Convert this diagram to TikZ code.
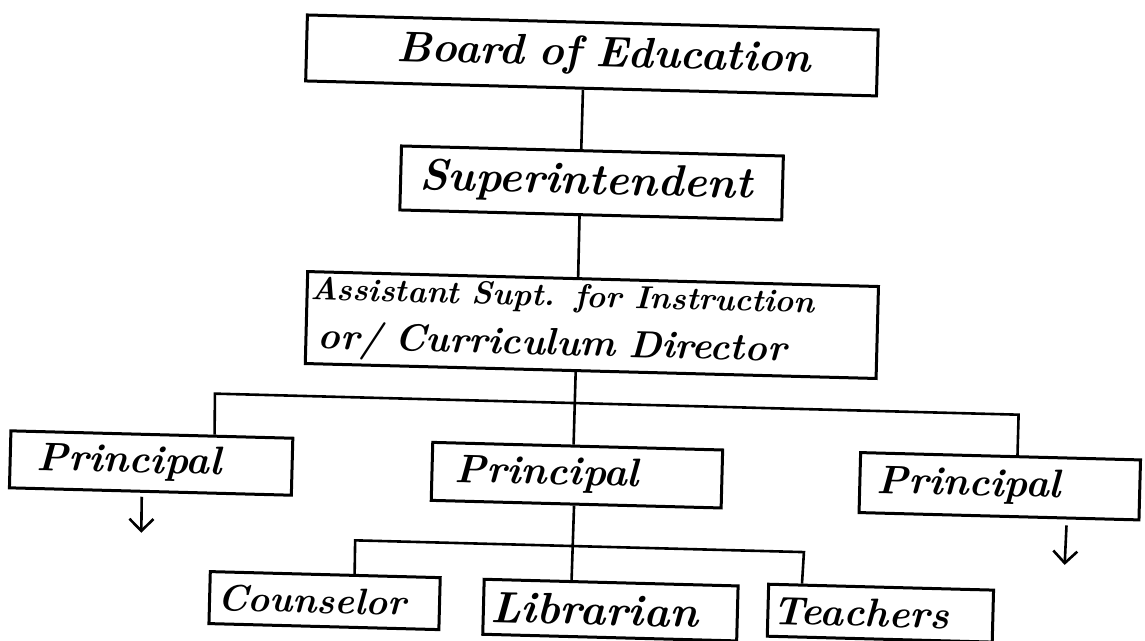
\documentclass[tikz,border=0pt]{standalone}
\usepackage{fontspec}
\usetikzlibrary{calc,arrows.meta}
\newcommand\hw{\bfseries\itshape}
\begin{document}
\begin{tikzpicture}[x=0.5pt,y=-0.5pt,
  box/.style={draw, line width=1.5pt, rectangle, inner xsep=2pt, inner ysep=0pt, align=left},
  link/.style={line width=1.3pt},
  arr/.style={line width=1.3pt, -{Straight Barb[length=6pt,width=12pt]}}]
\useasboundingbox (0,0) rectangle (1145,641);
\fill[white] (0,0) rectangle (1145,641);
\begin{scope}[rotate around={-1.5:(572,320)}, transform shape]
% boxes
\node[box, minimum width=285.5pt, text width=281.5pt, minimum height=33pt,
      font=\hw\fontsize{21.5}{25}\selectfont] (board) at (585,55) {\hspace*{43pt}Board of Education};
\node[box, minimum width=191pt, text width=187pt, minimum height=32pt,
      font=\hw\fontsize{22}{26}\selectfont] (super) at (588,182.5) {\hspace*{7.5pt}Superintendent};
\node[box, minimum width=285.5pt, text width=281.5pt, minimum height=46pt,
      font=\hw\fontsize{19}{24.5}\selectfont] (asst) at (592,324.5)
      {{\fontsize{16}{19}\selectfont Assistant Supt. for Instruction}\\\hspace*{4pt}or/ Curriculum Director};
\node[box, minimum width=141pt, text width=137pt, minimum height=28.5pt,
      font=\hw\fontsize{20}{24}\selectfont] (lp) at (155,474) {\hspace*{11.5pt}Principal};
\node[box, minimum width=145pt, text width=141pt, minimum height=29pt,
      font=\hw\fontsize{20}{24}\selectfont] (mp) at (581,475) {\hspace*{9.5pt}Principal};
\node[box, minimum width=140pt, text width=136pt, minimum height=30pt,
      font=\hw\fontsize{20}{24}\selectfont] (rp) at (1004,475) {\hspace*{6.5pt}Principal};
\node[box, minimum width=115pt, text width=111pt, minimum height=26pt,
      font=\hw\fontsize{18.5}{22}\selectfont] (co) at (332,607) {\hspace*{2pt}Counselor};
\node[box, minimum width=127pt, text width=123pt, minimum height=27.5pt,
      font=\hw\fontsize{22}{26}\selectfont] (li) at (618,609) {\hspace*{1.5pt}Librarian};
\node[box, minimum width=112.5pt, text width=108.5pt, minimum height=26pt,
      font=\hw\fontsize{20}{24}\selectfont] (te) at (888,605) {\hspace*{0.5pt}Teachers};
% bus coordinates
\coordinate (busL) at (217,403);
\coordinate (busR) at (1021,403);
\coordinate (sbL) at (361,546);
\coordinate (sbR) at (810,546);
\coordinate (la) at (147,544);
\coordinate (ra) at (1071,552);
% connectors
\draw[link] ($(board.south west)!0.486!(board.south east)$) -- ($(super.north west)!0.471!(super.north east)$);
\draw[link] ($(super.south west)!0.471!(super.south east)$) -- ($(asst.north west)!0.474!(asst.north east)$);
\draw[link] ($(asst.south west)!0.474!(asst.south east)$) -- ($(mp.north west)!0.486!(mp.north east)$);
\draw[link] ($(lp.north west)!0.72!(lp.north east)$) -- (busL) -- (busR) -- ($(rp.north west)!0.56!(rp.north east)$);
\draw[link] ($(mp.south west)!0.493!(mp.south east)$) -- ($(li.north west)!0.346!(li.north east)$);
\draw[link] ($(co.north west)!0.626!(co.north east)$) -- (sbL) -- (sbR) -- ($(te.north west)!0.153!(te.north east)$);
\draw[arr, shorten <=2pt] ($(lp.south west)!0.47!(lp.south east)$) -- (la);
\draw[arr, shorten <=3pt] ($(rp.south west)!0.74!(rp.south east)$) -- (ra);
\end{scope}
\end{tikzpicture}
\end{document}
